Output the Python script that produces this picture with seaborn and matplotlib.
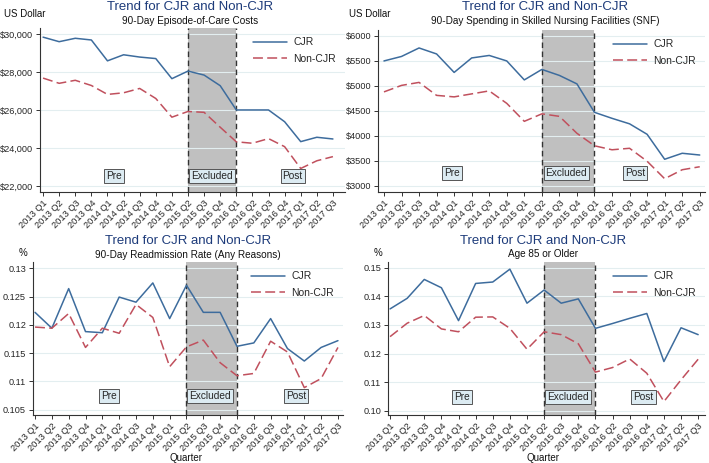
import matplotlib
matplotlib.use("Agg")
import matplotlib.pyplot as plt
import pandas as pd
import seaborn as sns

quarters = ["2013 Q1", "2013 Q2", "2013 Q3", "2013 Q4",
            "2014 Q1", "2014 Q2", "2014 Q3", "2014 Q4",
            "2015 Q1", "2015 Q2", "2015 Q3", "2015 Q4",
            "2016 Q1", "2016 Q2", "2016 Q3", "2016 Q4",
            "2017 Q1", "2017 Q2", "2017 Q3"]

cost_cjr = [29850, 29610, 29790, 29700, 28600, 28920, 28800, 28720, 27660, 28060,
            27850, 27290, 26010, 26010, 26010, 25390, 24340, 24570, 24480]
cost_non = [27690, 27415, 27575, 27300, 26830, 26915, 27145, 26615, 25630, 25930,
            25885, 25100, 24330, 24255, 24500, 24075, 22925, 23330, 23550]

snf_cjr = [5500, 5590, 5760, 5640, 5270, 5560, 5610, 5500, 5120, 5330,
           5210, 5040, 4470, 4350, 4240, 4030, 3530, 3650, 3615]
snf_non = [4880, 5010, 5070, 4810, 4780, 4840, 4900, 4650, 4290, 4440,
           4390, 4050, 3800, 3720, 3750, 3490, 3140, 3320, 3380]

read_cjr = [0.1222, 0.1194, 0.1264, 0.1188, 0.1186, 0.1249, 0.1240, 0.1274, 0.1211, 0.1270,
            0.1222, 0.1222, 0.1162, 0.1168, 0.1211, 0.1158, 0.1136, 0.1160, 0.1172]
read_non = [0.1196, 0.1194, 0.1220, 0.1160, 0.1194, 0.1185, 0.1236, 0.1213, 0.1126, 0.1161,
            0.1173, 0.1133, 0.1110, 0.1114, 0.1171, 0.1152, 0.1089, 0.1105, 0.1160]

age_cjr = [0.1356, 0.1393, 0.1459, 0.1430, 0.1315, 0.1445, 0.1450, 0.1495, 0.1376, 0.1422,
           0.1376, 0.1391, 0.1288, 0.1305, 0.1323, 0.1340, 0.1172, 0.1290, 0.1266]
age_non = [0.1259, 0.1306, 0.1333, 0.1286, 0.1276, 0.1327, 0.1328, 0.1288, 0.1215, 0.1276,
           0.1266, 0.1234, 0.1135, 0.1151, 0.1181, 0.1131, 0.1032, 0.1108, 0.1180]

cost_ticks = [22000, 24000, 26000, 28000, 30000]
cost_labels = ["$22,000", "$24,000", "$26,000", "$28,000", "$30,000"]
snf_ticks = [3000, 3500, 4000, 4500, 5000, 5500, 6000]
snf_labels = ["$3000", "$3500", "$4000", "$4500", "$5000", "$5500", "$6000"]
read_ticks = [0.105, 0.11, 0.115, 0.12, 0.125, 0.13]
read_labels = ["0.105", "0.11", "0.115", "0.12", "0.125", "0.13"]
age_ticks = [0.10, 0.11, 0.12, 0.13, 0.14, 0.15]
age_labels = ["0.10", "0.11", "0.12", "0.13", "0.14", "0.15"]

period_names = ["Pre", "Excluded", "Post"]
excl_start, excl_end = 9, 12

BLUE = "#3d6c9d"
RED = "#c0505d"
NAVY = "#1d3b7a"

sns.set_theme(style="white")
plt.rcParams["font.family"] = ["Liberation Sans", "DejaVu Sans"]


def draw_panel(ax, cjr, non, yticks, ylabels, ylim, xlim, label_pos, label_y):
    df = pd.DataFrame({
        "idx": list(range(len(quarters))) * 2,
        "value": cjr + non,
        "group": ["CJR"] * len(cjr) + ["Non-CJR"] * len(non),
    })
    ax.axvspan(excl_start, excl_end, color="#c0c0c0", zorder=0, lw=0)
    for xv in (excl_start, excl_end):
        ax.axvline(xv, color="#333333", ls=(0, (4, 2.5)), lw=1.0, zorder=1)
    sns.lineplot(data=df, x="idx", y="value", hue="group", style="group",
                 palette={"CJR": BLUE, "Non-CJR": RED},
                 dashes={"CJR": "", "Non-CJR": (6.5, 2.8)},
                 linewidth=1.1, ax=ax, zorder=3)
    ax.set_xlim(*xlim)
    ax.set_ylim(*ylim)
    ax.set_yticks(yticks)
    ax.set_yticklabels(ylabels, fontsize=6.6)
    ax.set_xticks(range(len(quarters)))
    ax.set_xticklabels(quarters, rotation=45, ha="right", rotation_mode="anchor", fontsize=6.7)
    ax.yaxis.grid(True, color="#e3eef0", lw=0.8)
    ax.set_axisbelow(True)
    for side in ("top", "right"):
        ax.spines[side].set_visible(False)
    for side in ("left", "bottom"):
        ax.spines[side].set_color("#333333")
        ax.spines[side].set_linewidth(0.8)
    ax.tick_params(axis="both", length=3, width=0.7, color="#333333", pad=2, bottom=True, left=True)
    ax.set_ylabel("")
    ax.set_xlabel("")
    handles, labels = ax.get_legend_handles_labels()
    ax.legend(handles, labels, loc="upper right", frameon=False, fontsize=7.5,
              handlelength=3.2, borderaxespad=0.5, labelspacing=0.6, handletextpad=0.6)
    for name, xp in zip(period_names, label_pos):
        ax.text(xp, label_y, name, transform=ax.get_xaxis_transform(), ha="center", va="center",
                fontsize=7.3, bbox=dict(boxstyle="square,pad=0.2", fc="#dcebf2", ec="#555555", lw=0.7),
                zorder=5)


fig = plt.figure(figsize=(7.09, 4.63), dpi=100)
ax1 = fig.add_axes([40 / 709, 1 - 192 / 463, 305 / 709, 164 / 463])
ax2 = fig.add_axes([378 / 709, 1 - 192 / 463, 327 / 709, 162 / 463])
ax3 = fig.add_axes([33 / 709, 1 - 415 / 463, 310 / 709, 153 / 463])
ax4 = fig.add_axes([388 / 709, 1 - 415 / 463, 317 / 709, 153 / 463])

draw_panel(ax1, cost_cjr, cost_non, cost_ticks, cost_labels, (21684, 30332), (-0.19, 18.75),
           (4.4, 10.5, 15.5), 0.10)
draw_panel(ax2, snf_cjr, snf_non, snf_ticks, snf_labels, (2874, 6120), (-0.34, 18.3),
           (3.9, 10.4, 14.3), 0.117)
draw_panel(ax3, read_cjr, read_non, read_ticks, read_labels, (0.10406, 0.1311), (-0.12, 18.3),
           (4.4, 10.4, 15.5), 0.126)
draw_panel(ax4, age_cjr, age_non, age_ticks, age_labels, (0.0985, 0.152), (-0.12, 18.4),
           (4.2, 10.4, 14.8), 0.12)

titles = [
    (190, 7, 21, "90-Day Episode-of-Care Costs", 4, 14, "US Dollar"),
    (545, 7, 21, "90-Day Spending in Skilled Nursing Facilities (SNF)", 349, 14, "US Dollar"),
    (188, 241, 255, "90-Day Readmission Rate (Any Reasons)", 19, 253, "%"),
    (543, 241, 254, "Age 85 or Older", 374, 253, "%"),
]
for cx, ty, sy, sub, ux, uy, unit in titles:
    fig.text(cx / 709, 1 - ty / 463, "Trend for CJR and Non-CJR", ha="center", va="center",
             fontsize=9.5, color=NAVY)
    fig.text(cx / 709, 1 - sy / 463, sub, ha="center", va="center", fontsize=7.2, color="#111111")
    fig.text(ux / 709, 1 - uy / 463, unit, ha="left", va="center", fontsize=7, color="#111111")

# shared x label under the bottom panels
for cx in (186, 543):
    fig.text(cx / 709, 1 - 458 / 463, "Quarter", ha="center", va="center", fontsize=7, color="#111111")

fig.savefig("out.png", dpi=100)
